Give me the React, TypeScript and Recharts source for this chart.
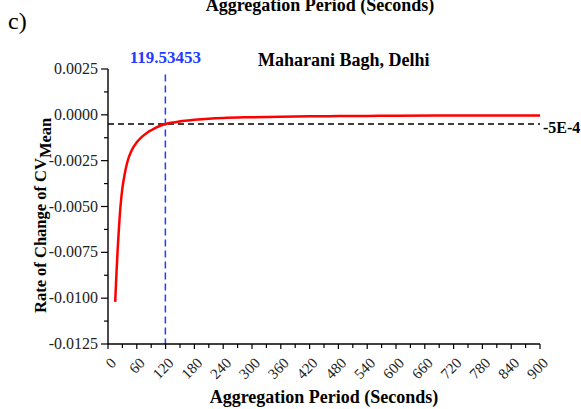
import React from 'react';
import { LineChart, Line, XAxis, YAxis, ReferenceLine } from 'recharts';

const periods = [15, 17, 20, 23, 26, 30, 35, 40, 50, 60, 70, 80, 90, 100, 119.5, 140, 160, 180, 210, 240, 300, 360, 420, 480, 540, 600, 720, 900];
const rates = [-0.0102, -0.009, -0.0074, -0.0061, -0.005, -0.004, -0.0032, -0.0026, -0.0019, -0.0015, -0.00122, -0.001, -0.00084, -0.0007, -0.0005, -0.0004, -0.00032, -0.00027, -0.00021, -0.00017, -0.00013, -0.0001, -0.00008, -0.00007, -0.00006, -0.00005, -0.00004, -0.00003];

const xTicks = [0, 30, 60, 90, 120, 150, 180, 210, 240, 270, 300, 330, 360, 390, 420, 450, 480, 510, 540, 570, 600, 630, 660, 690, 720, 750, 780, 810, 840, 870, 900];
const yTicks = [0.0025, 0.00125, 0, -0.00125, -0.0025, -0.00375, -0.005, -0.00625, -0.0075, -0.00875, -0.01, -0.01125, -0.0125];

const crossX = 119.53453;
const thresholdY = -0.0005;
const crossLabel = '119.53453';
const thresholdLabel = '-5E-4';
const siteLabel = 'Maharani Bagh, Delhi';
const xTitle = 'Aggregation Period (Seconds)';
const panelLabel = 'c)';

const data = periods.map((p, i) => ({ x: p, y: rates[i] }));

const FONT = '"Liberation Serif", "Times New Roman", serif';

const XTick = (props: any) => {
  const { x, y, payload } = props;
  const v = payload.value;
  const major = v % 60 === 0;
  return (
    <g>
      <line x1={x} y1={y} x2={x} y2={y + (major ? 5 : 4)} stroke="#000" strokeWidth={1.2} />
      {major && (
        <text
          x={x + 9}
          y={y + 20}
          textAnchor="end"
          transform={`rotate(-45, ${x + 9}, ${y + 20})`}
          fontFamily={FONT}
          fontSize={15}
          fill="#222"
        >
          {v}
        </text>
      )}
    </g>
  );
};

const YTick = (props: any) => {
  const { x, y, payload } = props;
  const v = payload.value;
  const major = Math.abs(Math.round(v / 0.00125)) % 2 === 0;
  return (
    <g>
      <line x1={x} y1={y} x2={x - (major ? 7 : 4)} y2={y} stroke="#000" strokeWidth={1.2} />
      {major && (
        <text x={x - 10} y={y + 5} textAnchor="end" fontFamily={FONT} fontSize={16} fill="#222">
          {v.toFixed(4)}
        </text>
      )}
    </g>
  );
};

export default function App() {
  return (
    <div style={{ position: 'absolute', left: 0, top: 0, width: 581, height: 409, background: '#fff' }}>
      <LineChart
        width={581}
        height={409}
        data={data}
        margin={{ top: 69, right: 41, bottom: 0, left: 0 }}
      >
        <XAxis
          dataKey="x"
          type="number"
          domain={[0, 900]}
          ticks={xTicks}
          interval={0}
          height={65}
          tickSize={0}
          tickMargin={0}
          tickLine={false}
          axisLine={{ stroke: '#000', strokeWidth: 1.4 }}
          tick={<XTick />}
        />
        <YAxis
          type="number"
          domain={[-0.0125, 0.0025]}
          ticks={yTicks}
          interval={0}
          width={108}
          tickSize={0}
          tickMargin={0}
          tickLine={false}
          axisLine={{ stroke: '#000', strokeWidth: 1.4 }}
          tick={<YTick />}
        />
        <ReferenceLine
          y={thresholdY}
          stroke="#000"
          strokeWidth={1.5}
          strokeDasharray="6 4"
          label={{ value: thresholdLabel, position: 'right', offset: 3, fill: '#000', fontSize: 16, fontWeight: 'bold', fontFamily: FONT, dy: 3 }}
        />
        <ReferenceLine
          segment={[{ x: crossX, y: 0.0022 }, { x: crossX, y: -0.0125 }]}
          stroke="#1f3cff"
          strokeWidth={1.5}
          strokeDasharray="7 4"
          label={{ value: crossLabel, position: 'top', offset: 12, fill: '#1f3cff', fontSize: 17, fontWeight: 'bold', fontFamily: FONT }}
        />
        <Line
          type="monotone"
          dataKey="y"
          stroke="#ff0000"
          strokeWidth={2.5}
          dot={false}
          isAnimationActive={false}
        />
      </LineChart>
      <svg width={581} height={409} style={{ position: 'absolute', left: 0, top: 0, pointerEvents: 'none' }}>
        <text x={8} y={29} fontFamily={FONT} fontSize={24} fill="#000">{panelLabel}</text>
        <text x={320} y={11} textAnchor="middle" fontFamily={FONT} fontSize={18} fontWeight="bold" fill="#000">{xTitle}</text>
        <text x={258} y={66} fontFamily={FONT} fontSize={18} fontWeight="bold" fill="#000">{siteLabel}</text>
        <text x={324} y={403} textAnchor="middle" fontFamily={FONT} fontSize={18} fontWeight="bold" fill="#000">{xTitle}</text>
        <text transform="translate(46,313) rotate(-90)" fontFamily={FONT} fontSize={16.5} fontWeight="bold" fill="#000">
          Rate of Change of CV<tspan dy={5}>Mean</tspan>
        </text>
      </svg>
    </div>
  );
}
